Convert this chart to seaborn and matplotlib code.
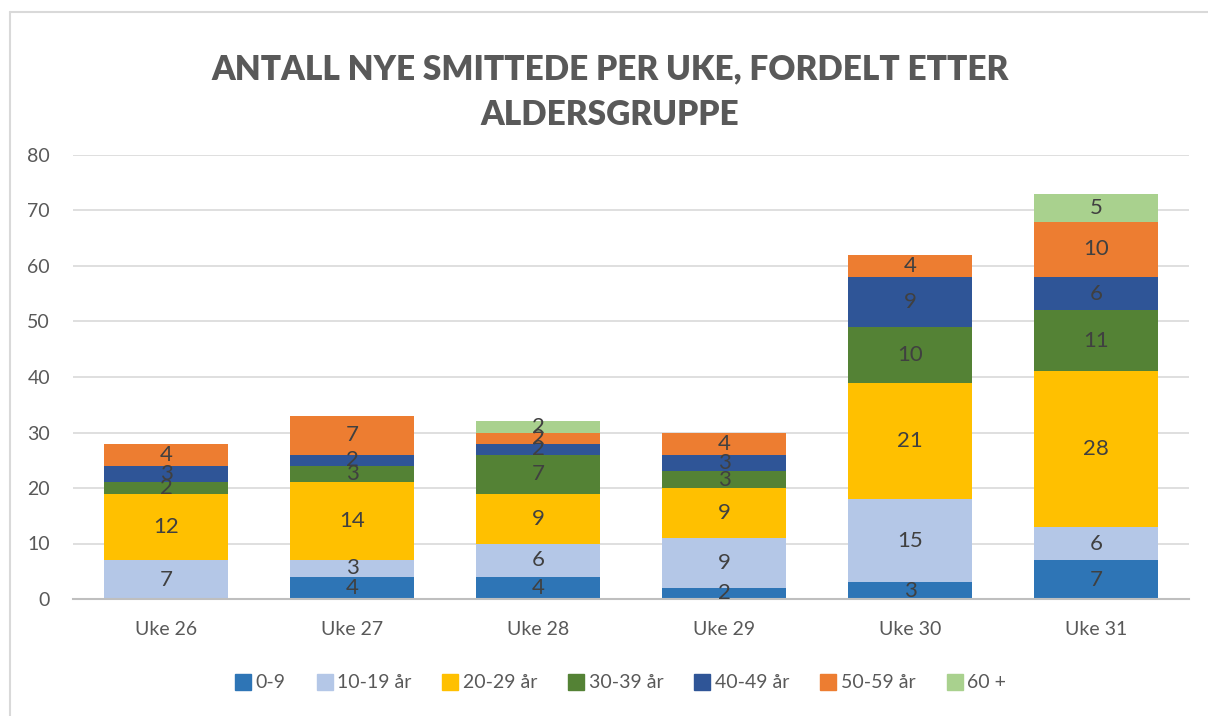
import numpy as np
import pandas as pd
import matplotlib.pyplot as plt
import seaborn as sns
from matplotlib.lines import Line2D

# Data
weeks = ["Uke 26", "Uke 27", "Uke 28", "Uke 29", "Uke 30", "Uke 31"]
groups = ["0-9", "10-19 år", "20-29 år", "30-39 år", "40-49 år", "50-59 år", "60 +"]
age_0_9 = [0, 4, 4, 2, 3, 7]
age_10_19 = [7, 3, 6, 9, 15, 6]
age_20_29 = [12, 14, 9, 9, 21, 28]
age_30_39 = [2, 3, 7, 3, 10, 11]
age_40_49 = [3, 2, 2, 3, 9, 6]
age_50_59 = [4, 7, 2, 4, 4, 10]
age_60 = [0, 0, 2, 0, 0, 5]

series = [age_0_9, age_10_19, age_20_29, age_30_39, age_40_49, age_50_59, age_60]
colors = ["#2E75B6", "#B4C7E7", "#FFC000", "#548235", "#2F5597", "#ED7D31", "#A9D18E"]

sns.set_theme(style="white")
plt.rcParams["font.family"] = ["Lato", "DejaVu Sans"]

fig = plt.figure(figsize=(12.08, 7.16), dpi=100)
ax = fig.add_axes([73 / 1208, 1 - 599 / 716, 1116 / 1208, 444 / 716])

bottom = np.zeros(len(weeks))
for name, vals, col in zip(groups, series, colors):
    df = pd.DataFrame({"week": weeks, "n": vals})
    sns.barplot(data=df, x="week", y="n", color=col, bottom=bottom,
                width=0.667, saturation=1, linewidth=0, ax=ax)
    cont = ax.containers[-1]
    labels = [str(v) if v > 0 else "" for v in vals]
    ax.bar_label(cont, labels=labels, label_type="center",
                 fontsize=16, color="#404040")
    bottom = bottom + np.array(vals)

ax.set_ylim(0, 80)
ax.set_xlim(-0.5, len(weeks) - 0.5)
ax.set_yticks(range(0, 81, 10))
ax.yaxis.grid(True, color="#D9D9D9", linewidth=1.2)
ax.set_axisbelow(True)
for s in ["top", "right", "left"]:
    ax.spines[s].set_visible(False)
ax.spines["bottom"].set_color("#BFBFBF")
ax.spines["bottom"].set_linewidth(1.5)
ax.tick_params(axis="both", length=0, labelsize=14, labelcolor="#595959")
ax.tick_params(axis="x", pad=16)
ax.tick_params(axis="y", pad=16.5)
ax.set_xlabel("")
ax.set_ylabel("")

fig.text(0.505, 1 - 69 / 716, "ANTALL NYE SMITTEDE PER UKE, FORDELT ETTER",
         ha="center", va="center", fontsize=24, fontweight="heavy", color="#595959")
fig.text(0.505, 1 - 115 / 716, "ALDERSGRUPPE",
         ha="center", va="center", fontsize=24, fontweight="heavy", color="#595959")

handles = [Line2D([0], [0], marker="s", linestyle="", markersize=11,
                  markerfacecolor=c, markeredgecolor=c) for c in colors]
fig.legend(handles, groups, loc="center", bbox_to_anchor=(0.513, 1 - 683 / 716),
           ncol=7, frameon=False, fontsize=14, labelcolor="#595959",
           handletextpad=0.15, columnspacing=1.5, handlelength=1.0)

# chart border
fig.add_artist(Line2D([10 / 1208, 10 / 1208], [0, 1 - 12 / 716], color="#D9D9D9", linewidth=1.5))
fig.add_artist(Line2D([10 / 1208, 1], [1 - 12 / 716, 1 - 12 / 716], color="#D9D9D9", linewidth=1.5))

fig.savefig("out.png", dpi=100)
